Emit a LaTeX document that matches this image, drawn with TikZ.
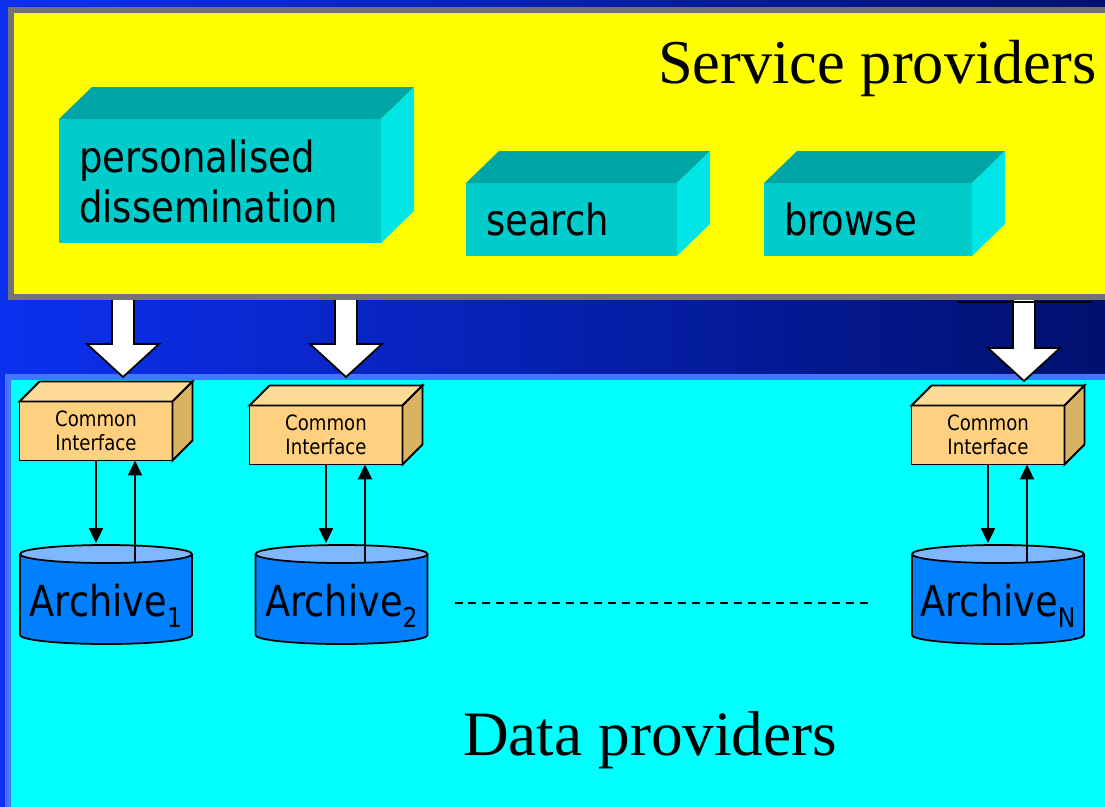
\documentclass[tikz,border=0pt]{standalone}
\usepackage{fontspec}
\setmainfont{Liberation Serif}
\newfontfamily\boxfont[FakeStretch=0.86]{DejaVu Sans}
\usetikzlibrary{arrows.meta,calc,positioning}
\definecolor{bgleft}{RGB}{12,48,240}
\definecolor{bgright}{RGB}{0,16,110}
\definecolor{spyellow}{RGB}{255,255,0}
\definecolor{spgrey}{RGB}{115,115,115}
\definecolor{dpcyan}{RGB}{0,255,255}
\definecolor{dpborder}{RGB}{68,119,255}
\definecolor{svc1}{RGB}{0,204,204}
\definecolor{svc2}{RGB}{0,165,165}
\definecolor{svc3}{RGB}{0,229,229}
\definecolor{ci1}{RGB}{255,208,128}
\definecolor{ci2}{RGB}{253,219,150}
\definecolor{ci3}{RGB}{217,178,98}
\definecolor{ar1}{RGB}{0,128,255}
\definecolor{ar2}{RGB}{128,184,255}
\newcommand{\pxl}{0.02cm}

\begin{document}
\begin{tikzpicture}[x=0.02cm,y=0.02cm,
    svcbox/.style={fill=svc1,inner sep=0pt,outer sep=0pt,anchor=north west,align=left,
      font=\boxfont\fontsize{24.5}{28.5}\selectfont},
    cibox/.style={draw,line width=1.1pt,fill=ci1,inner sep=0pt,outer sep=0pt,align=center,
      minimum width=153*\pxl,minimum height=59*\pxl,font=\boxfont\fontsize{12}{13.7}\selectfont},
    archive/.style={fill=ar1,inner sep=0pt,outer sep=0pt,minimum width=172*\pxl,minimum height=81*\pxl,
      text height=43*\pxl,text depth=0pt,font=\boxfont\fontsize{24.3}{26}\selectfont},
    bigarrow/.style={draw=black,fill=white,line width=1pt,line join=miter},
    flow/.style={line width=1.1pt,-{Triangle[width=8pt,length=8.5pt]}},
    title/.style={anchor=base west,font=\fontsize{36}{40}\selectfont}]
\newcommand{\sub}[1]{\raisebox{-6.3pt}{\fontsize{15.5}{16}\selectfont #1}}
\path[use as bounding box,clip] (0,0) rectangle (1105,-806);
\shade[left color=bgleft,right color=bgright] (0,0) rectangle (1105,-806);
% data providers
\filldraw[fill=dpcyan,draw=dpborder,line width=3.4pt] (8,-377) rectangle (1130,-830);
% big arrows
\foreach \x/\t/\h in {123/377/344,346/377/344,1024/381/348}
  \draw[bigarrow] ({\x-11},-296) -- ({\x-11},-\h) -- ({\x-36},-\h) -- (\x,-\t)
    -- ({\x+36},-\h) -- ({\x+11},-\h) -- ({\x+11},-296);
% service providers
\filldraw[fill=spyellow,draw=spgrey,line width=3.4pt] (11,-10) rectangle (1130,-297);
\draw[line width=1.2pt] (957,-302) -- (1092,-302);
\node[title,font=\fontsize{35.5}{40}\selectfont] (sp) at (652,-83) {Service providers};
\node[title] (dp) at (457,-755) {Data providers};

\node[svcbox,minimum width=322*\pxl,minimum height=124*\pxl,text width=282*\pxl] (pd) at (59,-119)
  {personalised\\dissemination};
\node[svcbox,minimum width=211*\pxl,minimum height=73*\pxl,text width=171*\pxl] (srch) at (466,-183) {search};
\node[svcbox,minimum width=208*\pxl,minimum height=73*\pxl,text width=168*\pxl] (brws) at (764,-183) {browse};
\foreach \b in {pd,srch,brws}{
  \fill[svc2] (\b.north west) -- ++(33,32) -- ([shift={(33,32)}]\b.north east) -- (\b.north east) -- cycle;
  \fill[svc3] (\b.north east) -- ++(33,32) -- ([shift={(33,32)}]\b.south east) -- (\b.south east) -- cycle;
}

% common interfaces
\node[cibox] (if1) at (96,-431) {Common\\Interface};
\node[cibox] (if2) at (326,-435) {Common\\Interface};
\node[cibox] (ifN) at (988,-435) {Common\\Interface};
\foreach \c in {if1,if2,ifN}{
  \filldraw[fill=ci2,line width=1.1pt] (\c.north west) -- ++(20,20) -- ([shift={(20,20)}]\c.north east) -- (\c.north east) -- cycle;
  \filldraw[fill=ci3,line width=1.1pt] (\c.north east) -- ++(20,20) -- ([shift={(20,20)}]\c.south east) -- (\c.south east) -- cycle;
}

% archives
\node[archive] (a1) at (106,-594.5) {Archive\sub{1}};
\node[archive] (a2) at (341.5,-594.5) {Archive\sub{2}};
\node[archive] (aN) at (998,-594.5) {Archive\sub{N}};
\foreach \a in {a1,a2,aN}{
  \fill[ar1] (\a.south west) arc[start angle=180,end angle=360,x radius=86,y radius=9] -- cycle;
  \draw[line width=1pt] (\a.north west) -- (\a.south west) arc[start angle=180,end angle=360,x radius=86,y radius=9] -- (\a.north east);
  \filldraw[fill=ar2,line width=1pt] (\a.north) ellipse[x radius=86,y radius=9];
}

% requests and replies
\foreach \c/\a in {if1/a1,if2/a2,ifN/aN}{
  \draw[flow] (\c.south) -- ($(\c.south |- \a.north)+(0,11)$);
  \draw[flow] ($(\c.south |- \a.north)+(39,-9)$) -- ($(\c.south)+(39,0)$);
}
\draw[line width=1.1pt,dash pattern=on 4.55pt off 3.4pt] ($(a2.east)+(27,-8.5)$) -- ($(aN.west)+(-42,-8.5)$);
\end{tikzpicture}
\end{document}
